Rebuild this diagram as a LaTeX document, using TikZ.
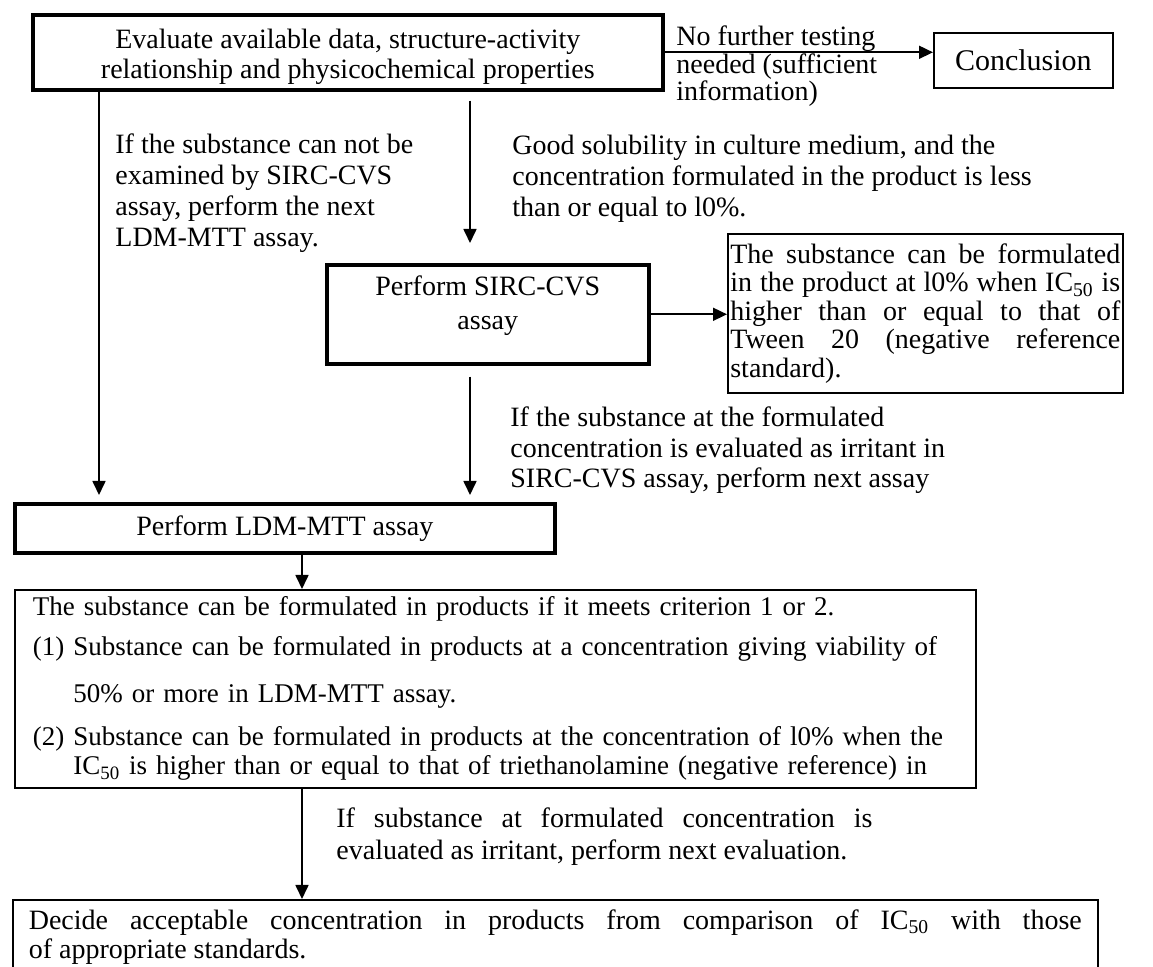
\documentclass[tikz,border=0pt]{standalone}
\usepackage{fontspec}
\setmainfont{Liberation Serif}
\usepackage{tikz}
\usetikzlibrary{arrows.meta}

\newcommand{\icfifty}{IC\textsubscript{50}}

\begin{document}
\begin{tikzpicture}[x=0.5pt, y=-0.5pt,
        font=\fontsize{14}{15.5}\selectfont,
        heavybox/.style={draw, line width=1.8pt, inner sep=0pt, anchor=north west},
        lightbox/.style={draw, line width=0.85pt, inner sep=0pt, anchor=north west},
        flow/.style={-{Triangle[length=7pt,width=6.5pt]}, line width=0.85pt},
        note/.style={inner sep=0pt, anchor=base west, align=left}]

        \useasboundingbox (0,0) rectangle (1153,967);
        \clip (0,0) rectangle (1153,967);

        % boxes
        \node[heavybox, minimum width=315pt, minimum height=37.5pt, align=center,
              font=\fontsize{14}{15}\selectfont] (eval) at (31,13)
            {\rule{0pt}{14.6pt}Evaluate available data, structure-activity\\relationship and physicochemical properties};
        \node[lightbox, minimum width=89.5pt, minimum height=27.5pt,
              font=\fontsize{15}{17}\selectfont] (concl) at (933,32) {Conclusion};
        \node[heavybox, minimum width=161pt, minimum height=49.5pt, align=center,
              font=\fontsize{14}{17}\selectfont] (sirc) at (325,263)
            {Perform SIRC-CVS\\assay\rule[-12pt]{0pt}{12pt}};
        \node[lightbox, minimum width=197.5pt, minimum height=79.5pt, text width=195pt,
              inner xsep=1.25pt, align=justify, font=\fontsize{14}{14.2}\selectfont] (tween) at (727,233)
            {The substance can be formulated\linebreak in the product at l0\% when \icfifty{} is\linebreak
             higher than or equal to that of\linebreak Tween 20 (negative reference\linebreak standard).};
        \node[heavybox, minimum width=270pt, minimum height=24.5pt] (ldm) at (13,502) {Perform LDM-MTT assay};
        \node[lightbox, minimum width=480.5pt, minimum height=99pt, text width=462.5pt,
              inner xsep=9pt, align=left, font=\fontsize{13.5}{14.5}\selectfont] (crit) at (14,589)
            {The substance can be formulated in products if it meets criterion 1 or 2.\\[5.5pt]
             (1) Substance can be formulated in products at a concentration giving viability of\\[9pt]
             \phantom{(1) }50\% or more in LDM-MTT assay.\\[7pt]
             (2) Substance can be formulated in products at the concentration of l0\% when the\\
             \phantom{(2) }\icfifty{} is higher than or equal to that of triethanolamine (negative reference) in};
        \node[lightbox, minimum width=542.5pt, minimum height=37pt, text width=526.5pt,
              inner xsep=8pt, align=justify, font=\fontsize{14}{14.5}\selectfont] (final) at (12,899)
            {Decide acceptable concentration in products from comparison of \icfifty{} with those\linebreak
             of appropriate standards.};

        \node[note, font=\fontsize{14}{12.8}\selectfont] (nofurther) at (676,101)
            {No further testing\\needed (sufficient\\information)};
        \node[note] (notsirc) at (115,247)
            {If the substance can not be\\examined by SIRC-CVS\\assay, perform the next\\LDM-MTT assay.};
        \node[note] (soluble) at (512,217)
            {Good solubility in culture medium, and the\\concentration formulated in the product is less\\than or equal to l0\%.};
        \node[note, font=\fontsize{14}{15.25}\selectfont] (irritant) at (510,488)
            {If the substance at the formulated\\concentration is evaluated as irritant in\\SIRC-CVS assay, perform next assay};
        \node[note, text width=268pt, align=justify, font=\fontsize{14}{16}\selectfont] (nexteval) at (336,828)
            {If substance at formulated concentration is\linebreak evaluated as irritant, perform next evaluation.};

        \coordinate (leftx) at (99,0);
        \coordinate (midx) at (470,0);
        \coordinate (lowx) at (302,0);

        \draw[flow] (eval.east) -- (eval.east -| concl.west);
        \draw[flow] (eval.south -| leftx) -- ([yshift=3.5pt]ldm.north -| leftx);
        \draw[flow] ([yshift=-4.5pt]eval.south -| midx) -- ([yshift=10pt]sirc.north -| midx);
        \draw[flow] (sirc.east) -- (sirc.east -| tween.west);
        \draw[flow] ([yshift=-5.5pt]sirc.south -| midx) -- ([yshift=3.5pt]ldm.north -| midx);
        \draw[flow] (ldm.south -| lowx) -- (crit.north -| lowx);
        \draw[flow] (crit.south -| lowx) -- (final.north -| lowx);
    \end{tikzpicture}
\end{document}
